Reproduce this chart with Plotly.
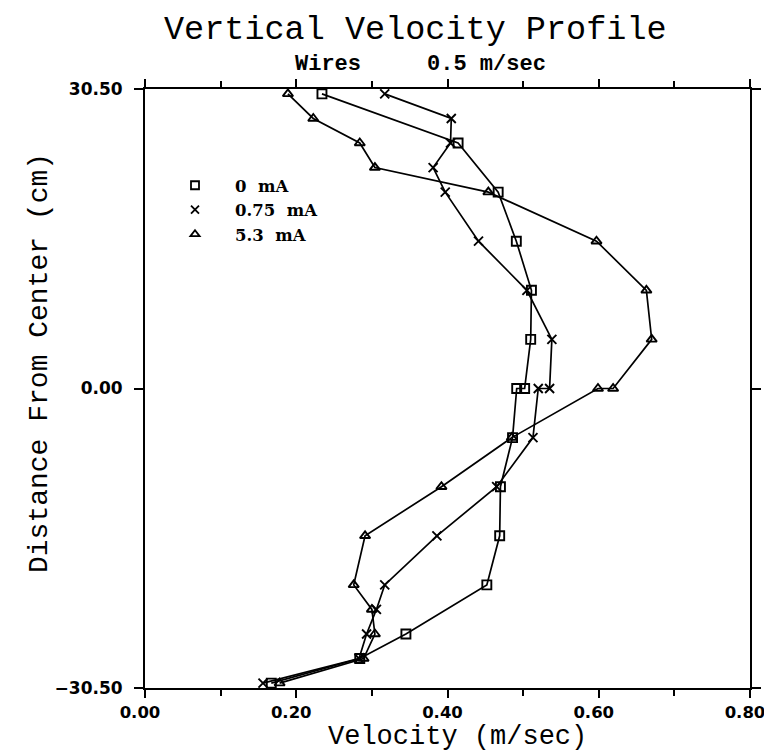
import plotly.graph_objects as go

# ---- data ----
dist_0mA = [30, 25, 20, 15, 10, 5, 0, 0, -5, -10, -15, -20, -25, -27.5, -30]
vel_0mA = [0.234, 0.414, 0.467, 0.491, 0.511, 0.510, 0.502, 0.4915, 0.486, 0.470,
           0.469, 0.452, 0.345, 0.284, 0.167]

dist_075mA = [30, 27.5, 25, 22.5, 20, 15, 10, 5, 0, 0, -5, -10, -15, -20, -22.5, -25, -27.5, -30]
vel_075mA = [0.317, 0.405, 0.404, 0.381, 0.397, 0.441, 0.505, 0.538, 0.535, 0.520,
             0.513, 0.465, 0.386, 0.317, 0.306, 0.293, 0.283, 0.156]

dist_53mA = [30, 27.5, 25, 22.5, 20, 15, 10, 5, 0, 0, -5, -10, -15, -20, -22.5, -25, -27.5, -30]
vel_53mA = [0.189, 0.2225, 0.284, 0.304, 0.454, 0.597, 0.663, 0.670, 0.619, 0.599,
            0.485, 0.392, 0.291, 0.276, 0.300, 0.304, 0.289, 0.178]

series_names = ["0  mA", "0.75  mA", "5.3  mA"]
series_symbols = ["square-open", "x-thin-open", "triangle-up-open"]

x_tick_vals = [0.0, 0.2, 0.4, 0.6, 0.8]
x_tick_text = ["0.00", "0.20", "0.40", "0.60", "0.80"]
y_tick_vals = [-30.5, 0.0, 30.5]
y_tick_text = ["\u221230.50", "0.00", "30.50"]

title_text = "Vertical Velocity Profile"
subtitle_text = "<b>Wires     0.5 m/sec</b>"
x_title = "Velocity (m/sec)"
y_title = "Distance From Center (cm)"

# page body has an 8px margin; the figure is sized to fill the rest of the window
OFF = 8
W, H = 772 - OFF, 754 - OFF
ML, MR, MT, MB = 145 - OFF, 22, 89 - OFF, 66
plot_h = H - MT - MB
plot_w = W - ML - MR

fig = go.Figure()

all_series = [(vel_0mA, dist_0mA), (vel_075mA, dist_075mA), (vel_53mA, dist_53mA)]
for (vx, dy), name, sym in zip(all_series, series_names, series_symbols):
    fig.add_trace(go.Scatter(
        x=vx, y=dy, mode="lines+markers", showlegend=False,
        line=dict(color="black", width=1.7),
        marker=dict(symbol=sym, size=9, color="black", line=dict(color="black", width=1.9)),
    ))
    # legend-only marker entry
    fig.add_trace(go.Scatter(
        x=[None], y=[None], mode="markers", name=name,
        marker=dict(symbol=sym, size=8, color="black", line=dict(color="black", width=1.8)),
    ))

def px_to_paper_x(px):
    return (px - OFF - ML) / plot_w

def px_to_paper_y(py):
    return (H - MB - (py - OFF)) / plot_h

annotations = [
    dict(text=title_text, x=px_to_paper_x(415), y=px_to_paper_y(30), xref="paper", yref="paper",
         showarrow=False, xanchor="center", yanchor="middle",
         font=dict(family="Liberation Mono", size=33.5, color="black")),
    dict(text=subtitle_text, x=px_to_paper_x(420), y=px_to_paper_y(65), xref="paper", yref="paper",
         showarrow=False, xanchor="center", yanchor="middle",
         font=dict(family="Liberation Mono", size=22, color="black")),
    dict(text=x_title, x=px_to_paper_x(457), y=px_to_paper_y(737), xref="paper", yref="paper",
         showarrow=False, xanchor="center", yanchor="middle",
         font=dict(family="Liberation Mono", size=27, color="black")),
    dict(text=y_title, x=px_to_paper_x(40), y=px_to_paper_y(363), xref="paper", yref="paper",
         showarrow=False, xanchor="center", yanchor="middle", textangle=-90,
         font=dict(family="Liberation Mono", size=28, color="black")),
]

fig.update_layout(
    width=W, height=H,
    margin=dict(l=ML, r=MR, t=MT, b=MB, autoexpand=False),
    paper_bgcolor="white", plot_bgcolor="white",
    annotations=annotations,
    legend=dict(
        x=px_to_paper_x(155), y=px_to_paper_y(168), xanchor="left", yanchor="top",
        bgcolor="rgba(0,0,0,0)", borderwidth=0,
        font=dict(family="DejaVu Serif", size=16.5, color="black", weight="bold"),
        itemwidth=70, tracegroupgap=0,
    ),
    xaxis=dict(
        range=[0, 0.8], showgrid=False, zeroline=False,
        showline=True, linecolor="black", linewidth=2, mirror="ticks",
        ticks="outside", ticklen=8, tickwidth=2, tickcolor="black",
        tickvals=x_tick_vals, ticktext=x_tick_text, ticklabeloverflow="allow",
        ticklabelshift=-5,
        tickfont=dict(family="DejaVu Sans", size=16.5, color="black", weight="bold"),
        minor=dict(dtick=0.1, ticks="outside", ticklen=6, tickwidth=1.5, tickcolor="black"),
    ),
    yaxis=dict(
        range=[-30.5, 30.5], showgrid=False, zeroline=False,
        showline=True, linecolor="black", linewidth=2, mirror="ticks",
        ticks="outside", ticklen=9, tickwidth=2, tickcolor="black",
        tickvals=y_tick_vals, ticktext=y_tick_text, ticklabeloverflow="allow",
        ticklabelstandoff=8,
        tickfont=dict(family="DejaVu Sans", size=17, color="black", weight="bold"),
    ),
)

fig.write_html("out.html")
